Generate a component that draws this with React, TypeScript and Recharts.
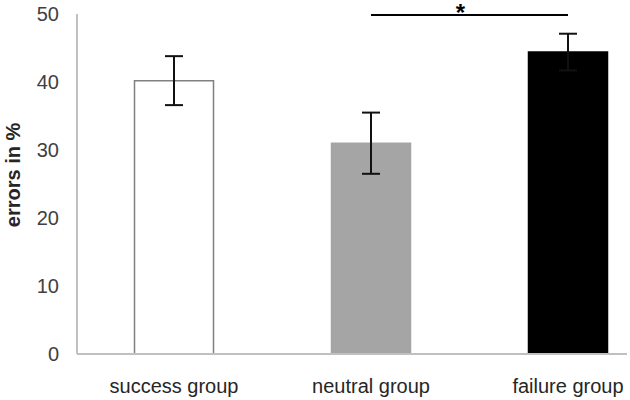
import React from 'react';
import { BarChart, Bar, XAxis, YAxis, ErrorBar, Cell, ReferenceLine } from 'recharts';

const groups = ['success group', 'neutral group', 'failure group'];
const errorRates = [40.2, 31.0, 44.4];
const errorSE = [3.6, 4.5, 2.7];
const barFills = ['#ffffff', '#a5a5a5', '#000000'];
const barStrokes = ['#808080', '#a5a5a5', '#000000'];
const yTicks = [0, 10, 20, 30, 40, 50];
// significance bracket between neutral and failure group
const sigPair = ['neutral group', 'failure group'];
const sigLevel = 49.85;

const data = groups.map((g, i) => ({ group: g, rate: errorRates[i], se: errorSE[i] }));

const font = '"Liberation Sans", Arial, sans-serif';

export default function App() {
  return (
    <div style={{ position: 'absolute', left: 0, top: 0, background: '#fff' }}>
      <BarChart width={630} height={400} data={data} margin={{ top: 14, right: 3, left: 0, bottom: 0 }}>
        <XAxis
          dataKey="group"
          height={46}
          padding={{ left: -1.5, right: -39.5 }}
          tickLine={false}
          tickSize={0}
          tickMargin={25}
          axisLine={{ stroke: '#c0c0c0', strokeWidth: 2 }}
          tick={{ fontSize: 20, fill: '#262626', fontFamily: font }}
        />
        <YAxis
          width={77}
          domain={[0, 50]}
          ticks={yTicks}
          tickLine={false}
          tickSize={0}
          tickMargin={18}
          axisLine={{ stroke: '#c0c0c0', strokeWidth: 2 }}
          tick={{ fontSize: 20, fill: '#404040', fontFamily: font }}
          label={{
            content: () => (
              <text
                transform="translate(20,175) rotate(-90)"
                textAnchor="middle"
                fontSize={20}
                fontWeight="bold"
                fontFamily={font}
                fill="#262626"
              >
                errors in %
              </text>
            ),
          }}
        />
        <Bar dataKey="rate" barSize={79} isAnimationActive={false}>
          {data.map((d, i) => (
            <Cell key={d.group} fill={barFills[i]} stroke={barStrokes[i]} strokeWidth={1.5} />
          ))}
          <ErrorBar dataKey="se" width={9} stroke="#111" strokeWidth={2} isAnimationActive={false} />
        </Bar>
        <ReferenceLine
          segment={[
            { x: sigPair[0], y: sigLevel },
            { x: sigPair[1], y: sigLevel },
          ]}
          stroke="#000"
          strokeWidth={2}
          ifOverflow="visible"
          label={{
            value: '*',
            position: 'top',
            offset: -6,
            dx: -9,
            fontSize: 24,
            fontWeight: 'bold',
            fontFamily: font,
            fill: '#000',
          }}
        />
      </BarChart>
    </div>
  );
}
